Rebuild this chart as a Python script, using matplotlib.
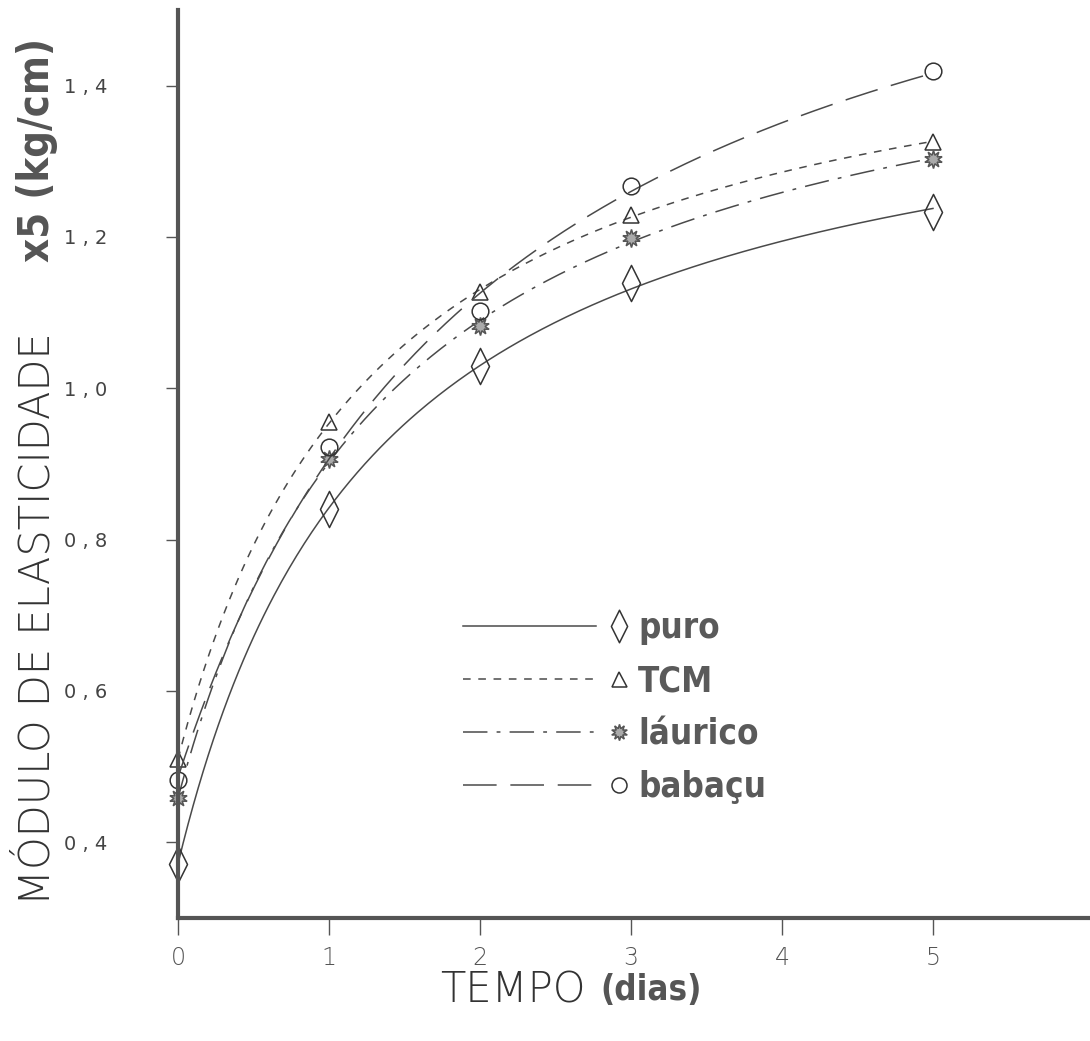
import matplotlib
matplotlib.use("Agg")
import matplotlib.pyplot as plt
import numpy as np
from matplotlib.path import Path
from matplotlib.lines import Line2D
from matplotlib.legend_handler import HandlerBase
from matplotlib.ticker import FuncFormatter

# data
tempo = [0, 1, 2, 3, 5]
puro = [0.372, 0.840, 1.029, 1.139, 1.233]
tcm = [0.510, 0.955, 1.127, 1.229, 1.326]
laurico = [0.458, 0.906, 1.082, 1.199, 1.303]
babacu = [0.483, 0.923, 1.102, 1.268, 1.419]
nomes = ["puro", "TCM", "láurico", "babaçu"]
xticks = [0, 1, 2, 3, 4, 5]
yticks = [0.4, 0.6, 0.8, 1.0, 1.2, 1.4]

cor = "#4a4a4a"
fino = ["DejaVu Sans"]
estreito = ["DejaVu Sans"]


def ajuste(x, y):
    # hyperbolic fit y = y0 + A*x/(K+x), K by grid search
    x = np.asarray(x, float)
    y = np.asarray(y, float)
    best = None
    for k in np.linspace(0.2, 5, 400):
        M = np.column_stack([np.ones_like(x), x / (k + x)])
        coef, *_ = np.linalg.lstsq(M, y, rcond=None)
        err = np.sum((M @ coef - y) ** 2)
        if best is None or err < best[0]:
            best = (err, k, coef)
    _, k, (y0, a) = best
    return lambda t: y0 + a * t / (k + t)


class EndMarker(HandlerBase):
    # line on the left, marker at the right end
    def create_artists(self, legend, orig_handle, xdescent, ydescent,
                       width, height, fontsize, trans):
        x0 = -xdescent
        x1 = -xdescent + width
        yc = height / 2 - ydescent
        line = Line2D([x0, x1 - 0.15 * width], [yc, yc])
        self.update_prop(line, orig_handle, legend)
        line.set_marker("None")
        mk = Line2D([x1], [yc])
        self.update_prop(mk, orig_handle, legend)
        mk.set_linestyle("None")
        line.set_transform(trans)
        mk.set_transform(trans)
        return [line, mk]


diamante = Path([(0, 1), (0.5, 0), (0, -1), (-0.5, 0), (0, 1)],
                [Path.MOVETO, Path.LINETO, Path.LINETO, Path.LINETO, Path.CLOSEPOLY])

estilos = [
    dict(y=puro, ls="-", marker=diamante, ms=26, mfc="none", mec="#333333"),
    dict(y=tcm, ls=(0, (5, 5)), marker="^", ms=12, mfc="none", mec="#333333"),
    dict(y=laurico, ls=(0, (16, 6, 2.5, 6)), marker=(10, 1, 0), ms=13, mfc="#aaaaaa", mec="#555555"),
    dict(y=babacu, ls=(0, (22, 9)), marker="o", ms=12, mfc="none", mec="#333333"),
]

fig = plt.figure(figsize=(10.9, 10.41), dpi=100)
ax = fig.add_axes([178 / 1090, 1 - 918 / 1041, 912 / 1090, 908 / 1041])

tt = np.linspace(0, 5, 300)
handles = []
for nome, st in zip(nomes, estilos):
    f = ajuste(tempo, st["y"])
    ax.plot(tt, f(tt), ls=st["ls"], color=cor, lw=1.1)
    ax.plot(tempo, st["y"], ls="none", marker=st["marker"], ms=st["ms"],
            mfc=st["mfc"], mec=st["mec"], mew=1.1, clip_on=False)
    h, = ax.plot([], [], ls=st["ls"], color=cor, lw=1.1, marker=st["marker"],
                 ms=st["ms"] * 0.9, mfc=st["mfc"], mec=st["mec"], mew=1.1)
    handles.append(h)

ax.set_xlim(0, 6.04)
ax.set_ylim(0.3, 1.5)
ax.set_xticks(xticks)
ax.set_yticks(yticks)
ax.yaxis.set_major_formatter(FuncFormatter(lambda v, p: f"{v:.1f}".replace(".", " , ")))

for s in ["top", "right"]:
    ax.spines[s].set_visible(False)
for s in ["left", "bottom"]:
    ax.spines[s].set_linewidth(3)
    ax.spines[s].set_color("#555555")

ax.tick_params(axis="y", direction="out", length=9, width=1, pad=42,
               labelsize=14, labelcolor="#444444", color="#555555")
ax.tick_params(axis="x", direction="out", length=12, width=1, pad=8,
               labelsize=17, labelcolor="#555555", color="#555555")
for t in ax.get_xticklabels():
    t.set_family(fino)
    t.set_fontweight("ultralight")

leg = ax.legend(handles, nomes, handler_map={h: EndMarker() for h in handles},
                loc="upper left", bbox_to_anchor=(0.3125, 0.338), frameon=False,
                borderpad=0, borderaxespad=0, handlelength=4.5, handletextpad=0.55,
                labelspacing=0.55,
                prop=dict(family=estreito, stretch="condensed", weight="bold", size=25))
for t in leg.get_texts():
    t.set_color("#5a5a5a")

fig.text(37 / 1090, 1 - 905 / 1041, "MÓDULO DE ELASTICIDADE", rotation=90,
         ha="center", va="bottom", fontsize=30, fontweight="ultralight",
         family=fino, color="#333333")
fig.text(37 / 1090, 1 - 262 / 1041, "x5 (kg/cm)", rotation=90,
         ha="center", va="bottom", fontsize=30, fontweight="bold", stretch="condensed",
         family=estreito, color="#555555")

fig.text(440 / 1090, 1 - 990 / 1041, "TEMPO", ha="left", va="center",
         fontsize=30, fontweight="ultralight", family=fino, color="#333333")
fig.text(600 / 1090, 1 - 990 / 1041, "(dias)", ha="left", va="center",
         fontsize=25, fontweight="bold", stretch="condensed",
         family=estreito, color="#555555")

fig.savefig("out.png", dpi=100)
